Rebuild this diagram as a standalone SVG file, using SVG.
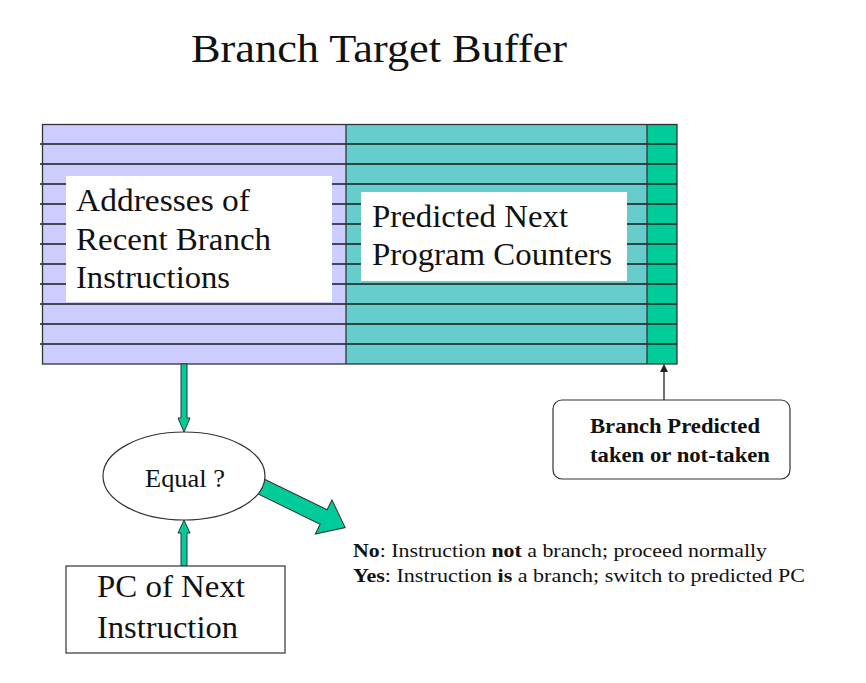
<svg xmlns="http://www.w3.org/2000/svg" width="866" height="683" viewBox="0 0 866 683">
<defs>
<style>
text{font-family:"Liberation Serif","Times New Roman",serif;fill:#111}
.row{stroke:#1a1a1a;stroke-width:1.5}
.sep{stroke:#333;stroke-width:1.3;fill:none}
.wbox{fill:#fff}
.big{font-size:32px}
.teal{fill:#00cc99;stroke:#333;stroke-width:1}
</style>
<marker id="ah" markerWidth="8" markerHeight="8" refX="4" refY="4" orient="auto" markerUnits="userSpaceOnUse">
<path d="M0,0 L8,4 L0,8 Z" fill="#222"/>
</marker>
</defs>
<rect width="866" height="683" fill="#fff"/>

<g id="title">
<text x="191" y="62" font-size="40" textLength="376" lengthAdjust="spacingAndGlyphs">Branch Target Buffer</text>
</g>

<g id="btb-table">
<rect x="43" y="124" width="303" height="240" fill="#ccccff"/>
<rect x="346" y="124" width="301" height="240" fill="#66cccc"/>
<rect x="647" y="124" width="30" height="240" fill="#00cc99"/>
<g class="row">
<line x1="40" y1="144" x2="677" y2="144"/>
<line x1="40" y1="164" x2="677" y2="164"/>
<line x1="40" y1="184" x2="677" y2="184"/>
<line x1="40" y1="204" x2="677" y2="204"/>
<line x1="40" y1="224" x2="677" y2="224"/>
<line x1="40" y1="244" x2="677" y2="244"/>
<line x1="40" y1="264" x2="677" y2="264"/>
<line x1="40" y1="284" x2="677" y2="284"/>
<line x1="40" y1="304" x2="677" y2="304"/>
<line x1="40" y1="324" x2="677" y2="324"/>
<line x1="40" y1="344" x2="677" y2="344"/>
</g>
<line class="sep" x1="346" y1="124" x2="346" y2="364"/>
<line class="sep" x1="647" y1="124" x2="647" y2="364"/>
<rect class="sep" x="42.5" y="124.5" width="634.5" height="239.5"/>
<rect class="wbox" x="66" y="176" width="266" height="126"/>
<rect class="wbox" x="361" y="192" width="266" height="89"/>
<text class="big" x="76" y="211" textLength="174" lengthAdjust="spacingAndGlyphs">Addresses of</text>
<text class="big" x="76" y="250" textLength="195" lengthAdjust="spacingAndGlyphs">Recent Branch</text>
<text class="big" x="76" y="288" textLength="154" lengthAdjust="spacingAndGlyphs">Instructions</text>
<text class="big" x="372" y="227" textLength="196" lengthAdjust="spacingAndGlyphs">Predicted Next</text>
<text class="big" x="372" y="265" textLength="240" lengthAdjust="spacingAndGlyphs">Program Counters</text>
</g>

<g id="connectors">
<path class="teal" d="M181,364 L187,364 L187,418 L190,418 L184,432 L178,418 L181,418 Z"/>
<path class="teal" d="M184,520 L190,533 L187,533 L187,566 L181,566 L181,533 L178,533 Z"/>
<polygon class="teal" transform="translate(258 485) rotate(26)" points="0,-8 73,-8 73,-19 97,0 73,19 73,8 0,8"/>
<line x1="664" y1="400" x2="664" y2="368" stroke="#222" stroke-width="1.3" marker-end="url(#ah)"/>
</g>

<g id="equal">
<ellipse cx="184" cy="476" rx="81" ry="44" fill="#fff" stroke="#333" stroke-width="1.2"/>
<text x="145" y="487" font-size="25" textLength="80" lengthAdjust="spacingAndGlyphs">Equal ?</text>
</g>

<g id="pc-next">
<rect x="66" y="566" width="219" height="87" fill="#fff" stroke="#333" stroke-width="1.2"/>
<text class="big" x="97" y="597" textLength="148" lengthAdjust="spacingAndGlyphs">PC of Next</text>
<text class="big" x="97" y="638" textLength="141" lengthAdjust="spacingAndGlyphs">Instruction</text>
</g>

<g id="branch-predicted">
<rect x="553" y="400" width="237" height="79" rx="9" fill="#fff" stroke="#333" stroke-width="1.2"/>
<text x="590" y="433" font-size="22" font-weight="bold" textLength="170" lengthAdjust="spacingAndGlyphs">Branch Predicted</text>
<text x="590" y="462" font-size="22" font-weight="bold" textLength="180" lengthAdjust="spacingAndGlyphs">taken or not-taken</text>
</g>

<g id="outcome-note">
<text x="353" y="557" font-size="19" textLength="414" lengthAdjust="spacingAndGlyphs"><tspan font-weight="bold">No</tspan>: Instruction <tspan font-weight="bold">not</tspan> a branch; proceed normally</text>
<text x="353" y="582" font-size="19" textLength="452" lengthAdjust="spacingAndGlyphs"><tspan font-weight="bold">Yes</tspan>: Instruction <tspan font-weight="bold">is</tspan> a branch; switch to predicted PC</text>
</g>
</svg>
